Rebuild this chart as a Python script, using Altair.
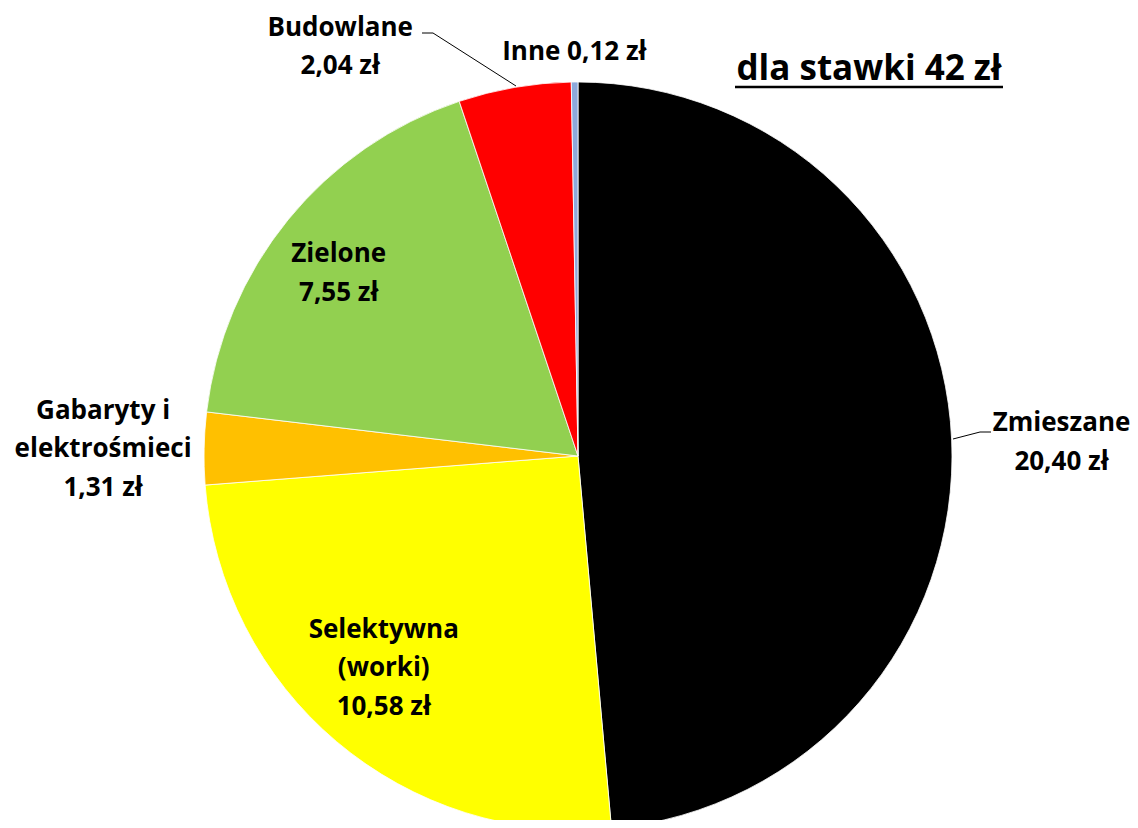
import altair as alt
import pandas as pd

# ---- data ----
categories = ["Zmieszane", "Selektywna (worki)", "Gabaryty i elektrośmieci",
              "Zielone", "Budowlane", "Inne"]
values = [20.40, 10.58, 1.31, 7.55, 2.04, 0.12]
label_texts = ["Zmieszane\n20,40 zł", "Selektywna\n(worki)\n10,58 zł",
               "Gabaryty i\nelektrośmieci\n1,31 zł", "Zielone\n7,55 zł",
               "Budowlane\n2,04 zł", "Inne 0,12 zł"]
colors = ["#000000", "#FFFF00", "#FFC000", "#92D050", "#FF0000", "#8EA9DB"]
title_text = "dla stawki 42 zł"

# ---- layout (label distance from centre and nudges) ----
CX, CY, R = 570, 448, 374
label_radius = [484, 287, 475, 302, 470, 406]
label_dx = [0, -9, 0, -5, -158, 0]
label_dy = [8, -7, 3, 8, 54, 2]
FONT = "Open Sans"
FS = 26
LH = 38.5

df = pd.DataFrame({
    "category": categories,
    "value": values,
    "order": list(range(len(categories))),
    "label": label_texts,
    "lr": label_radius,
    "ldx": label_dx,
    "ldy": label_dy,
})

pie = alt.Chart(df).mark_arc(outerRadius=R, stroke="white", strokeWidth=0.8).encode(
    theta=alt.Theta("value:Q", stack=True),
    order=alt.Order("order:Q"),
    color=alt.Color("category:N", scale=alt.Scale(domain=categories, range=colors), legend=None),
    x=alt.value(CX),
    y=alt.value(CY),
)

labels = alt.Chart(df).transform_joinaggregate(
    total="sum(value)"
).transform_window(
    cum="sum(value)", sort=[alt.SortField("order", order="ascending")],
    frame=[None, 0]
).transform_calculate(
    mid="(datum.cum - datum.value / 2) / datum.total * 2 * PI",
    nlines="length(split(datum.label, '\\n'))",
).transform_calculate(
    px=f"{CX} + datum.lr * sin(datum.mid) + datum.ldx",
    py=f"{CY} - datum.lr * cos(datum.mid) + datum.ldy - (datum.nlines - 1) * {LH} / 2",
).mark_text(font=FONT, fontWeight="bold", fontSize=FS, lineBreak="\n",
            lineHeight=LH, color="black", align="center", baseline="middle").encode(
    x=alt.X("px:Q", scale=None),
    y=alt.Y("py:Q", scale=None),
    text="label:N",
)

title_df = pd.DataFrame({"t": [title_text]})
title = alt.Chart(title_df).mark_text(font=FONT, fontWeight="bold", fontSize=35,
                                      align="center", baseline="alphabetic", color="black").encode(
    text="t:N", x=alt.value(861), y=alt.value(72)
)
underline = alt.Chart(title_df).mark_rule(color="black", strokeWidth=2.5).encode(
    x=alt.value(727), x2=alt.value(995), y=alt.value(79)
)

lead_kw = dict(color="black", strokeWidth=1)
lead1 = alt.Chart(title_df).mark_rule(**lead_kw).encode(
    x=alt.value(945), y=alt.value(431), x2=alt.value(972), y2=alt.value(424))
lead2 = alt.Chart(title_df).mark_rule(**lead_kw).encode(
    x=alt.value(972), y=alt.value(424), x2=alt.value(983), y2=alt.value(424))
lead3 = alt.Chart(title_df).mark_rule(**lead_kw).encode(
    x=alt.value(508), y=alt.value(78), x2=alt.value(425), y2=alt.value(25))
lead4 = alt.Chart(title_df).mark_rule(**lead_kw).encode(
    x=alt.value(425), y=alt.value(25), x2=alt.value(414), y2=alt.value(25))

chart = alt.layer(pie, labels, title, underline, lead1, lead2, lead3, lead4).properties(
    width=1122, height=812, autosize="none", padding=0
).configure_view(stroke=None)

chart.save("out.html", embed_options={"renderer": "svg", "actions": False})
